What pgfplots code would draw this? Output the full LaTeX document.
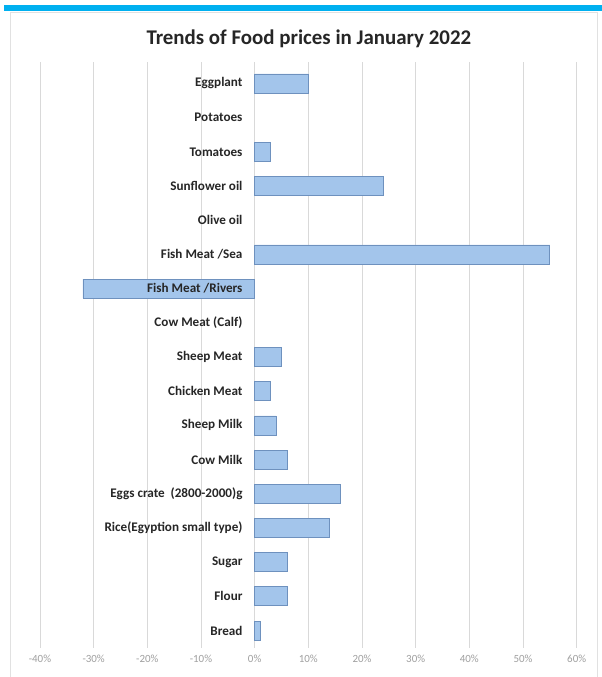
\documentclass[border=0pt]{standalone}
\usepackage{pgfplots}
\pgfplotsset{compat=1.18}
\usepackage{fontspec}
\setmainfont{Carlito}
\definecolor{barfill}{RGB}{163,197,235}
\definecolor{baredge}{RGB}{110,145,190}
\definecolor{gridc}{RGB}{217,217,217}
\definecolor{tickc}{RGB}{160,160,160}
\definecolor{topblue}{RGB}{0,176,240}
\definecolor{framec}{RGB}{225,225,225}
\tikzset{lab/.style={font=\bfseries\fontsize{13.2}{15}\selectfont, text=black!85, anchor=east, inner sep=0pt}}
\begin{document}
\begin{tikzpicture}[x=1bp,y=1bp]
\fill[white] (0,0) rectangle (602,677);
\draw[framec, line width=0.8bp] (10,0) -- (10,665) -- (598,665) -- (598,0);
\fill[topblue] (4,666) rectangle (602,672);
\node[font=\bfseries\fontsize{21}{25}\selectfont, text=black!85] at (309,638) {Trends of Food prices in January 2022};
\begin{axis}[
  at={(40bp,29bp)}, anchor=south west,
  scale only axis, width=537bp, height=586bp,
  xmin=-40, xmax=60, ymin=-0.5, ymax=16.63,
  axis y line=middle, axis x line=bottom,
  axis line style={draw=none},
  xtick={-40,-30,...,60},
  xticklabel={\pgfmathprintnumber{\tick}\%},
  xticklabel style={text=tickc, font=\fontsize{11}{13}\selectfont, yshift=-4bp},
  /pgf/number format/assume math mode=true,
  xmajorgrids, grid style={gridc, line width=0.8bp},
  major tick length=0pt,
  ytick=\empty,
  ymajorgrids=false,
  xbar, bar width=19bp, bar shift=0pt,
  clip=false,
]
\addplot[fill=barfill, draw=baredge, line width=0.7bp] coordinates {
(1,0) (6,1) (6,2) (14,3) (16,4) (6,5) (4,6) (3,7) (5,8) (-32,10) (55,11) (24,13) (3,14) (10,16)
};
\node[lab] at ([xshift=-12bp]axis cs:0,0) {Bread};
\node[lab] at ([xshift=-12bp]axis cs:0,1) {Flour};
\node[lab] at ([xshift=-12bp]axis cs:0,2) {Sugar};
\node[lab] at ([xshift=-12bp]axis cs:0,3) {Rice(Egyption small type)};
\node[lab] at ([xshift=-12bp]axis cs:0,4) {Eggs crate\ \ (2800-2000)g};
\node[lab] at ([xshift=-12bp]axis cs:0,5) {Cow Milk};
\node[lab] at ([xshift=-12bp]axis cs:0,6) {Sheep Milk};
\node[lab] at ([xshift=-12bp]axis cs:0,7) {Chicken Meat};
\node[lab] at ([xshift=-12bp]axis cs:0,8) {Sheep Meat};
\node[lab] at ([xshift=-12bp]axis cs:0,9) {Cow Meat (Calf)};
\node[lab] at ([xshift=-12bp]axis cs:0,10) {Fish Meat /Rivers};
\node[lab] at ([xshift=-12bp]axis cs:0,11) {Fish Meat /Sea};
\node[lab] at ([xshift=-12bp]axis cs:0,12) {Olive oil};
\node[lab] at ([xshift=-12bp]axis cs:0,13) {Sunflower oil};
\node[lab] at ([xshift=-12bp]axis cs:0,14) {Tomatoes};
\node[lab] at ([xshift=-12bp]axis cs:0,15) {Potatoes};
\node[lab] at ([xshift=-12bp]axis cs:0,16) {Eggplant};
\end{axis}
\end{tikzpicture}
\end{document}
